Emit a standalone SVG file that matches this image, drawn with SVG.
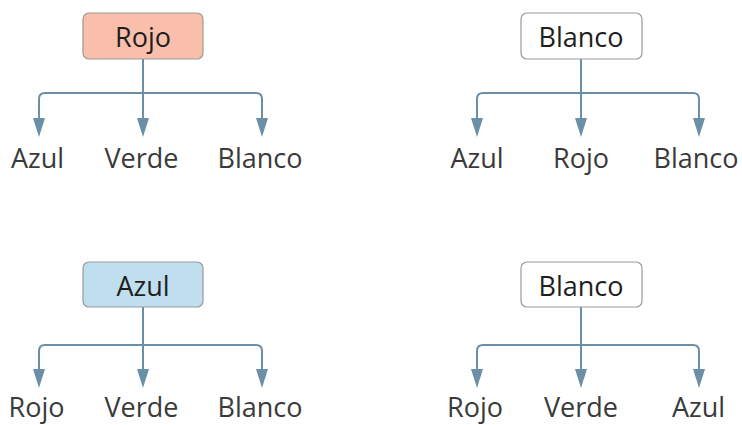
<svg xmlns="http://www.w3.org/2000/svg" width="742" height="425" viewBox="0 0 742 425">
<style>
.box{stroke:#9a9a9a;stroke-width:1.2}
.bt{font-family:"Open Sans","Liberation Sans",sans-serif;font-size:27px;font-weight:500;fill:#1e1e1e;text-anchor:middle}
.lb{font-family:"Open Sans","Liberation Sans",sans-serif;font-size:27px;fill:#3a3a3a;text-anchor:middle}
.cn{fill:none;stroke:#6b8fa7;stroke-width:2}
</style>
<defs>
<marker id="ah" markerUnits="userSpaceOnUse" markerWidth="19" markerHeight="12" viewBox="0 0 19 12" refX="1" refY="6" orient="auto">
<path d="M0,0 L19,6 L0,12 z" fill="#6b8fa7"/>
</marker>
</defs>
<rect width="742" height="425" fill="#ffffff"/>
<g id="connectors">
<path class="cn" d="M143,59 V119" marker-end="url(#ah)"/>
<path class="cn" d="M39,119 V99 Q39,93 45,93 H256 Q262,93 262,99 V119" marker-end="url(#ah)"/>
<path class="cn" d="M39,99 V119" marker-end="url(#ah)"/>
<path class="cn" d="M581,59 V119" marker-end="url(#ah)"/>
<path class="cn" d="M477,119 V99 Q477,93 483,93 H693 Q699,93 699,99 V119" marker-end="url(#ah)"/>
<path class="cn" d="M477,99 V119" marker-end="url(#ah)"/>
<path class="cn" d="M143,307 V370" marker-end="url(#ah)"/>
<path class="cn" d="M39,370 V351 Q39,345 45,345 H256 Q262,345 262,351 V370" marker-end="url(#ah)"/>
<path class="cn" d="M39,351 V370" marker-end="url(#ah)"/>
<path class="cn" d="M581,307 V370" marker-end="url(#ah)"/>
<path class="cn" d="M477,370 V351 Q477,345 483,345 H693 Q699,345 699,351 V370" marker-end="url(#ah)"/>
<path class="cn" d="M477,351 V370" marker-end="url(#ah)"/>
</g>
<g id="node-rojo">
<rect class="box" x="83" y="13" width="120" height="46" rx="6" fill="#f9bfab"/>
<text class="bt" x="143" y="47">Rojo</text>
</g>
<g id="node-blanco-1">
<rect class="box" x="521" y="13" width="121" height="46" rx="6" fill="#ffffff"/>
<text class="bt" x="581" y="47">Blanco</text>
</g>
<g id="node-azul">
<rect class="box" x="83" y="262" width="120" height="45" rx="6" fill="#bfdfee"/>
<text class="bt" x="143" y="296">Azul</text>
</g>
<g id="node-blanco-2">
<rect class="box" x="521" y="262" width="121" height="45" rx="6" fill="#ffffff"/>
<text class="bt" x="581" y="296">Blanco</text>
</g>
<g id="labels-1">
<text class="lb" x="37.5" y="168">Azul</text>
<text class="lb" x="141.5" y="168">Verde</text>
<text class="lb" x="260" y="168">Blanco</text>
</g>
<g id="labels-2">
<text class="lb" x="477" y="168">Azul</text>
<text class="lb" x="581" y="168">Rojo</text>
<text class="lb" x="696" y="168">Blanco</text>
</g>
<g id="labels-3">
<text class="lb" x="36.5" y="417">Rojo</text>
<text class="lb" x="141.5" y="417">Verde</text>
<text class="lb" x="260" y="417">Blanco</text>
</g>
<g id="labels-4">
<text class="lb" x="475" y="417">Rojo</text>
<text class="lb" x="581" y="417">Verde</text>
<text class="lb" x="698.5" y="417">Azul</text>
</g>
</svg>
